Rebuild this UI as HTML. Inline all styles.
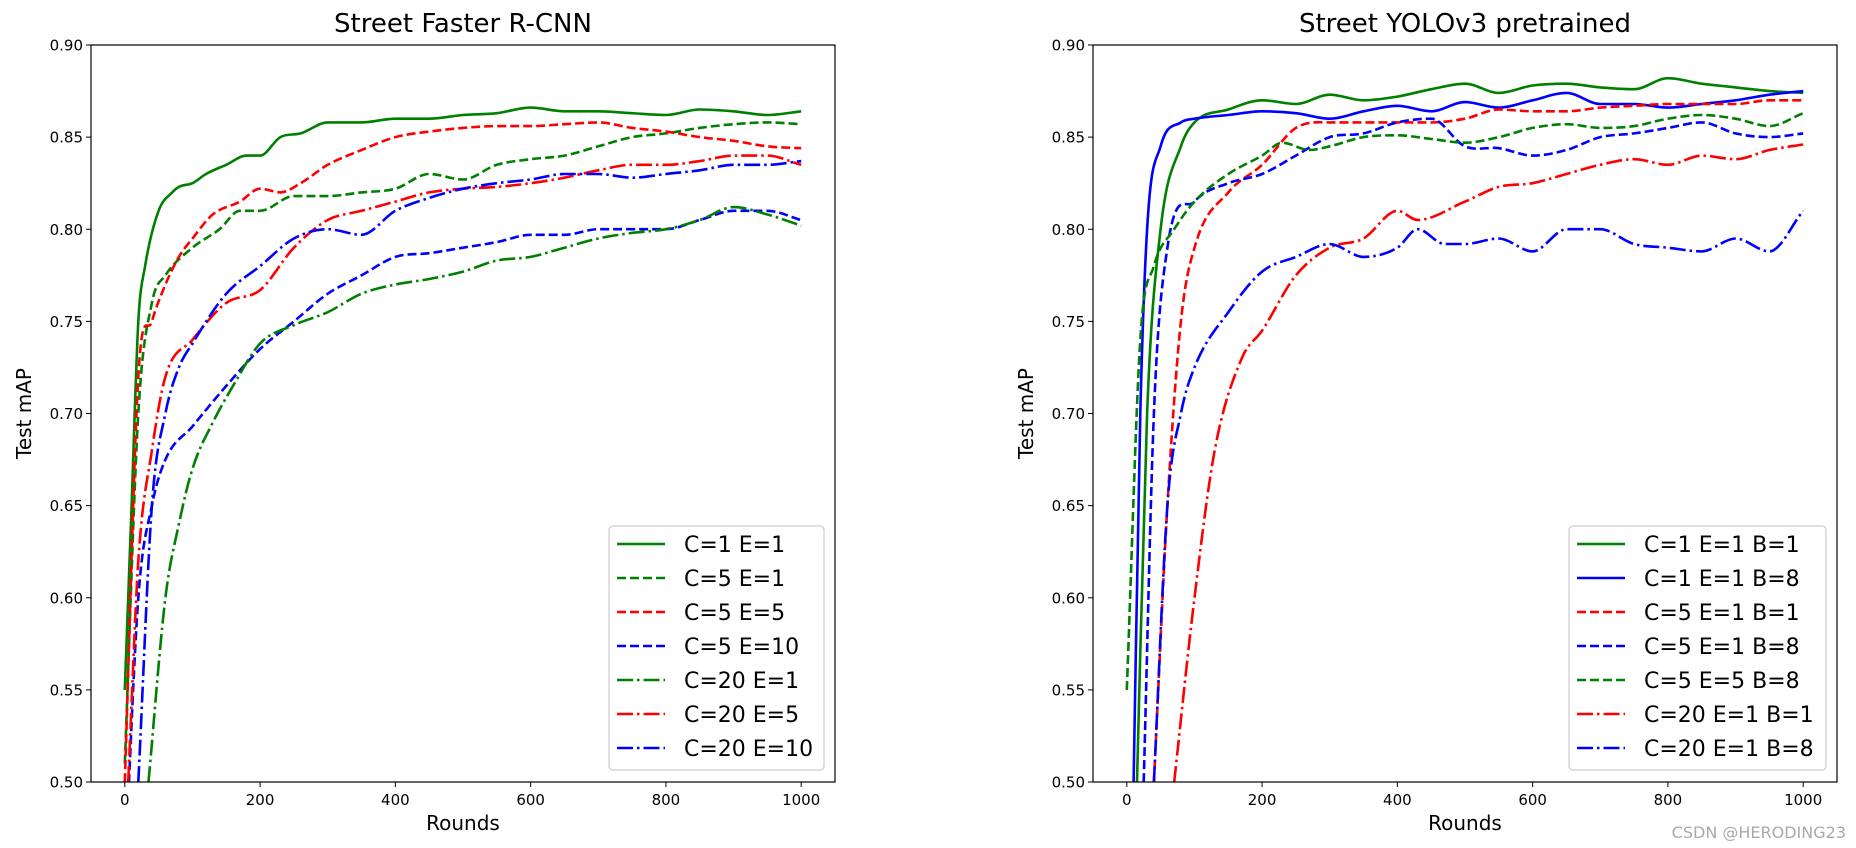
<!DOCTYPE html>
<html><head><meta charset="utf-8"><style>
html,body{margin:0;padding:0;background:#fff;}
svg{display:block;font-family:"DejaVu Sans","Liberation Sans",sans-serif;}
</style></head><body>
<svg id="fig" width="1856" height="848" viewBox="0 0 1856 848" xmlns="http://www.w3.org/2000/svg">
<text x="1846" y="838" font-size="16" fill="#aaa" text-anchor="end">CSDN @HERODING23</text>
</svg>
<script>
// ---- Left chart data (Street Faster R-CNN) ----
const leftLabels = ["C=1 E=1","C=5 E=1","C=5 E=5","C=5 E=10","C=20 E=1","C=20 E=5","C=20 E=10"];
const leftColors = ["green","green","red","blue","green","red","blue"];
const leftStyles = ["solid","dash","dash","dash","dashdot","dashdot","dashdot"];
const L0x=[0,10,20,30,50,70,80,100,120,150,180,200,230,260,300,350,400,450,500,550,600,650,700,750,800,850,900,950,1000];
const L0y=[0.55,0.65,0.75,0.78,0.81,0.82,0.823,0.825,0.83,0.835,0.84,0.84,0.85,0.852,0.858,0.858,0.86,0.86,0.862,0.863,0.866,0.864,0.864,0.863,0.862,0.865,0.864,0.862,0.864];
const L1x=[0,20,40,60,100,140,170,200,250,300,350,400,450,500,550,600,650,700,750,800,850,900,950,1000];
const L1y=[0.51,0.70,0.76,0.775,0.79,0.80,0.81,0.81,0.818,0.818,0.82,0.822,0.83,0.827,0.835,0.838,0.84,0.845,0.85,0.852,0.855,0.857,0.858,0.857];
const L2x=[0,20,40,60,80,100,130,170,200,230,260,300,350,400,450,500,550,600,650,700,750,800,850,900,950,1000];
const L2y=[0.50,0.72,0.75,0.77,0.785,0.795,0.808,0.815,0.822,0.82,0.825,0.835,0.843,0.85,0.853,0.855,0.856,0.856,0.857,0.858,0.855,0.853,0.85,0.848,0.845,0.844];
const L3x=[0,20,40,60,100,150,200,250,300,350,400,450,500,550,600,650,700,750,800,850,900,950,1000];
const L3y=[0.45,0.60,0.65,0.675,0.693,0.715,0.735,0.75,0.765,0.775,0.785,0.787,0.79,0.793,0.797,0.797,0.80,0.80,0.80,0.805,0.81,0.81,0.805];
const L4x=[35,60,80,100,130,160,200,250,300,350,400,450,500,550,600,650,700,750,800,850,900,950,1000];
const L4y=[0.50,0.60,0.64,0.67,0.695,0.715,0.738,0.748,0.755,0.765,0.77,0.773,0.777,0.783,0.785,0.79,0.795,0.798,0.80,0.805,0.812,0.808,0.802];
const L5x=[5,20,40,60,100,150,200,250,300,350,400,450,500,550,600,650,700,750,800,850,900,950,1000];
const L5y=[0.50,0.62,0.68,0.72,0.74,0.76,0.767,0.79,0.805,0.81,0.815,0.82,0.822,0.823,0.825,0.828,0.832,0.835,0.835,0.837,0.84,0.84,0.835];
const L6x=[20,40,60,80,100,150,200,250,300,350,400,450,500,550,600,650,700,750,800,850,900,950,1000];
const L6y=[0.50,0.65,0.70,0.725,0.738,0.765,0.78,0.795,0.80,0.797,0.81,0.817,0.822,0.825,0.827,0.83,0.83,0.828,0.83,0.832,0.835,0.835,0.837];
const leftX=[L0x,L1x,L2x,L3x,L4x,L5x,L6x], leftY=[L0y,L1y,L2y,L3y,L4y,L5y,L6y];

// ---- Right chart data (Street YOLOv3 pretrained) ----
const rightLabels = ["C=1 E=1 B=1","C=1 E=1 B=8","C=5 E=1 B=1","C=5 E=1 B=8","C=5 E=5 B=8","C=20 E=1 B=1","C=20 E=1 B=8"];
const rightColors = ["green","blue","red","blue","green","red","blue"];
const rightStyles = ["solid","solid","dash","dash","dash","dashdot","dashdot"];
const R0x=[15,30,50,80,100,150,200,250,300,350,400,450,500,550,600,650,700,750,800,850,900,950,1000];
const R0y=[0.50,0.70,0.80,0.845,0.858,0.865,0.87,0.868,0.873,0.87,0.872,0.876,0.879,0.874,0.878,0.879,0.877,0.876,0.882,0.879,0.877,0.875,0.874];
const R1x=[10,20,30,50,80,100,150,200,250,300,350,400,450,500,550,600,650,700,750,800,850,900,950,1000];
const R1y=[0.50,0.70,0.80,0.845,0.858,0.86,0.862,0.864,0.863,0.86,0.864,0.867,0.864,0.869,0.866,0.87,0.874,0.868,0.868,0.866,0.868,0.87,0.873,0.875];
const R2x=[40,60,80,100,150,200,250,300,350,400,450,500,550,600,650,700,750,800,850,900,950,1000];
const R2y=[0.50,0.65,0.75,0.79,0.82,0.835,0.855,0.858,0.858,0.858,0.858,0.86,0.865,0.864,0.864,0.866,0.867,0.868,0.868,0.868,0.87,0.87];
const R3x=[25,40,60,100,150,200,250,300,350,400,450,500,550,600,650,700,750,800,850,900,950,1000];
const R3y=[0.50,0.70,0.79,0.815,0.825,0.83,0.84,0.85,0.852,0.858,0.86,0.845,0.844,0.84,0.843,0.85,0.852,0.855,0.858,0.852,0.85,0.852];
const R4x=[0,20,40,70,100,150,200,230,270,300,350,400,450,500,550,600,650,700,750,800,850,900,950,1000];
const R4y=[0.55,0.74,0.78,0.80,0.815,0.83,0.84,0.847,0.843,0.845,0.85,0.851,0.849,0.847,0.85,0.855,0.857,0.855,0.856,0.86,0.862,0.86,0.856,0.863];
const R5x=[70,100,130,170,200,250,300,350,400,430,500,550,600,650,700,750,800,850,900,950,1000];
const R5y=[0.50,0.60,0.68,0.73,0.745,0.775,0.79,0.795,0.81,0.805,0.815,0.823,0.825,0.83,0.835,0.838,0.835,0.84,0.838,0.843,0.846];
const R6x=[40,60,80,100,150,200,250,300,350,400,430,470,500,550,600,650,700,750,800,850,900,950,1000];
const R6y=[0.50,0.65,0.70,0.725,0.755,0.777,0.785,0.792,0.785,0.79,0.80,0.792,0.792,0.795,0.788,0.80,0.80,0.792,0.79,0.788,0.795,0.788,0.81];
const rightX=[R0x,R1x,R2x,R3x,R4x,R5x,R6x], rightY=[R0y,R1y,R2y,R3y,R4y,R5y,R6y];

const xTicks=[0,200,400,600,800,1000];
const yTicks=[0.50,0.55,0.60,0.65,0.70,0.75,0.80,0.85,0.90];

const NS="http://www.w3.org/2000/svg";
const fig=document.getElementById('fig');
function mk(tag,attrs,parent){const e=document.createElementNS(NS,tag);for(const k in attrs)e.setAttribute(k,attrs[k]);(parent||fig).appendChild(e);return e;}
const dashMap={solid:null,dash:"9 4",dashdot:"16 4 2.5 4"};

// monotone cubic smooth path through pixel points
function smoothPath(P){
  const n=P.length; if(n<2) return '';
  const d=[],m=[];
  for(let i=0;i<n-1;i++){const dx=P[i+1][0]-P[i][0];d.push(dx===0?0:(P[i+1][1]-P[i][1])/dx);}
  m[0]=d[0]; m[n-1]=d[n-2];
  for(let i=1;i<n-1;i++){ m[i]=(d[i-1]*d[i]<=0)?0:(d[i-1]+d[i])/2; }
  let s='M'+P[0][0].toFixed(1)+','+P[0][1].toFixed(1);
  for(let i=0;i<n-1;i++){
    const h=(P[i+1][0]-P[i][0])/3;
    s+=' C'+(P[i][0]+h).toFixed(1)+','+(P[i][1]+m[i]*h).toFixed(1)+' '+(P[i+1][0]-h).toFixed(1)+','+(P[i+1][1]-m[i+1]*h).toFixed(1)+' '+P[i+1][0].toFixed(1)+','+P[i+1][1].toFixed(1);
  }
  return s;
}

function chart(key,left,title,labels,colors,styles,XS,YS,legX){
  const top=45,bottom=782,right=left+744,w=744;
  const xs=v=>left+w/22+(v/1000)*(w*20/22);
  const ys=v=>bottom-(v-0.5)/0.4*(bottom-top);
  const g=mk('g',{});
  
  
  const cp=mk('clipPath',{id:'cp'+key},g);
  mk('rect',{x:left,y:top,width:w,height:bottom-top},cp);
  const t=mk('text',{x:left+w/2,y:32,'font-size':26,'text-anchor':'middle',fill:'#000'},g);
  t.textContent=title;
  
  
  xTicks.forEach(v=>{
    mk('line',{x1:xs(v),x2:xs(v),y1:bottom,y2:bottom+5,stroke:'#000','stroke-width':1},g);
    const tl=mk('text',{x:xs(v),y:bottom+23,'font-size':15,'text-anchor':'middle'},g);
    tl.textContent=v;
    
    
  });
  yTicks.forEach(v=>{
    mk('line',{x1:left-5,x2:left,y1:ys(v),y2:ys(v),stroke:'#000','stroke-width':1},g);
    const tl=mk('text',{x:left-8,y:ys(v)+5.5,'font-size':15,'text-anchor':'end'},g);
    tl.textContent=v.toFixed(2);
    
    
  });
  const xl=mk('text',{x:left+w/2,y:830,'font-size':20,'text-anchor':'middle'},g);
  xl.textContent='Rounds';
  
  
  const yl=mk('text',{x:0,y:0,'font-size':20,'text-anchor':'middle',transform:`translate(${left-60},${(top+bottom)/2}) rotate(-90)`},g);
  yl.textContent='Test mAP';
  
  
  const lg=mk('g',{'clip-path':`url(#cp${key})`},g);
  for(let i=0;i<labels.length;i++){
    const P=XS[i].map((x,j)=>[xs(x),ys(YS[i][j])]);
    const a={d:smoothPath(P),fill:'none',stroke:colors[i],'stroke-width':2.6,'stroke-linejoin':'round'};
    if(dashMap[styles[i]])a['stroke-dasharray']=dashMap[styles[i]];
    const pl=mk('path',a,lg);
    
    
  }
  const frame=mk('rect',{x:left,y:top,width:w,height:bottom-top,fill:'none',stroke:'#000','stroke-width':1.2},g);
  
  
  const lgw=(right-11)-legX, lgTop=526, lgBot=770;
  const box=mk('rect',{x:legX,y:lgTop,width:lgw,height:lgBot-lgTop,rx:4,fill:'#fff','fill-opacity':0.8,stroke:'#ccc','stroke-width':1.2},g);
  
  
  for(let i=0;i<labels.length;i++){
    const y=544+i*34;
    const a={x1:legX+8,x2:legX+56,y1:y,y2:y,stroke:colors[i],'stroke-width':2.6};
    if(dashMap[styles[i]])a['stroke-dasharray']=dashMap[styles[i]];
    mk('line',a,g);
    const lt=mk('text',{x:legX+75,y:y+8,'font-size':22},g);
    lt.textContent=labels[i];
    
    
  }
}
chart('left',91,'Street Faster R-CNN',leftLabels,leftColors,leftStyles,leftX,leftY,609);
chart('right',1093,'Street YOLOv3 pretrained',rightLabels,rightColors,rightStyles,rightX,rightY,1569);
</script>
</body></html>
